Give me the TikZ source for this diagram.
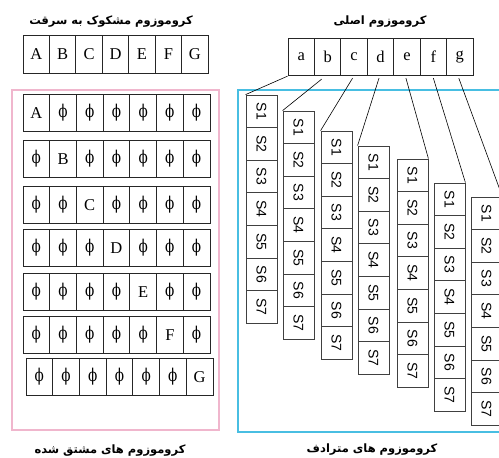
\documentclass[tikz,border=0pt]{standalone}
\usepackage{fontspec}
\setmainfont{Liberation Serif}
\setsansfont{Liberation Sans}
\newfontfamily\fa[Script=Arabic]{DejaVu Sans}
\newfontfamily\grk{DejaVu Serif}
\TeXXeTstate=1
\definecolor{pinkbox}{RGB}{240,182,205}
\definecolor{bluebox}{RGB}{72,190,226}
\newcommand\PHI{\scalebox{0.85}[1.1]{\grk\fontsize{16}{16}\selectfont ϕ}}
\begin{document}
\begin{tikzpicture}[x=1pt,y=-1pt,
  cell/.style={draw=black!85, line width=0.8pt, minimum width=26.5pt, minimum height=37.5pt, inner sep=0pt, font=\fontsize{16.5}{16.5}\selectfont},
  scell/.style={draw=black!75, line width=0.8pt, minimum width=31pt, minimum height=32.6pt, inner sep=0pt, font=\sffamily\fontsize{14}{14}\selectfont},
  title/.style={inner sep=0pt, font=\fa\bfseries\fontsize{11.5}{11.5}\selectfont},
  conn/.style={draw=black, line width=0.6pt}]
\useasboundingbox (0,0) rectangle (499,458);
% frames
\draw[pinkbox, line width=2pt] (12,90) rectangle (219,430);
\draw[bluebox, line width=2.6pt] (238,90) rectangle (520,432);
% titles
\node[title] (h1) at (111,22) {\beginR کروموزوم مشکوک به سرقت\endR};
\node[title] (h2) at (380,22) {\beginR کروموزوم اصلی\endR};
\node[title] (h3) at (110,451) {\beginR کروموزوم های مشتق شده\endR};
\node[title] (h4) at (372,450) {\beginR کروموزوم های مترادف\endR};
% top rows
\foreach \L [count=\i] in {A,B,C,D,E,F,G}
  \node[cell] (t\i) at ({23+26.43*(\i-0.5)},54.5) {\L};
\foreach \L [count=\i] in {a,b,c,d,e,f,g}
  \node[cell] (o\i) at ({288+26.43*(\i-0.5)},57) {\L};
% derived chromosomes
\foreach \r/\tp/\xo/\L in {1/94/23/A,2/140/23/B,3/186/23/C,4/229/23/D,5/273/23/E,6/316/23/F,7/358/26/G}
  \foreach \c in {1,...,7}
    \node[cell, minimum width=26.7pt] (p\r-\c) at ({\xo+26.7*(\c-0.5)},{\tp+19}) {\ifnum\c=\r \L\else\PHI\fi};
% synonym chromosomes
\foreach \k/\xl/\tp in {1/246/95,2/283/111,3/321/131,4/358/146,5/397/159,6/434/183,7/471/197}
  \foreach \s in {1,...,7}
    \node[scell] (s\k-\s) at ({\xl+15.5},{\tp+32.6*(\s-0.5)}) {\rotatebox{-90}{S\s}};
% connectors
\draw[conn] (o1.south west) -- (s1-1.north west);
\draw[conn] ([xshift=-6pt,yshift=-3pt]o2.south) -- (s2-1.north west);
\draw[conn] ([xshift=-1.5pt,yshift=-2pt]o3.south) -- (s3-1.north west);
\draw[conn] ([xshift=-1.5pt,yshift=-2pt]o4.south) -- (s4-1.north west);
\draw[conn] ([xshift=-1pt,yshift=-2pt]o5.south) -- (s5-1.north east);
\draw[conn] ([yshift=-2pt]o6.south) -- (s6-1.north east);
\draw[conn] ([xshift=-1pt,yshift=-2pt]o7.south) -- (s7-1.north east);
\end{tikzpicture}
\end{document}
